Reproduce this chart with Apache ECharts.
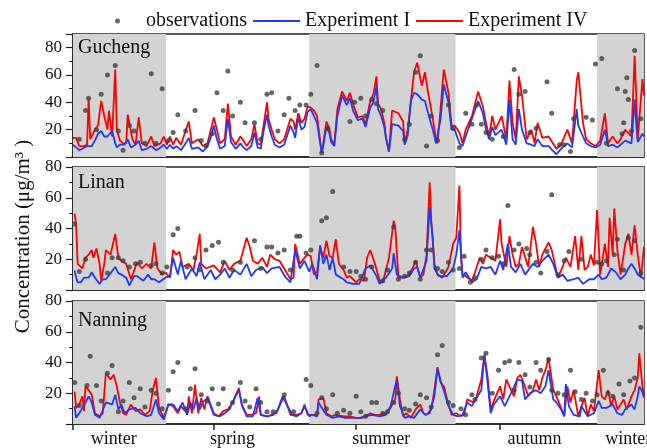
<!DOCTYPE html>
<html>
<head>
<meta charset="utf-8">
<script src="https://cdn.jsdelivr.net/npm/echarts@6/dist/echarts.min.js"></script>
<style>html,body{margin:0;padding:0;background:#fff}#c{width:647px;height:448px}</style>
</head>
<body>
<div id="c"></div>
<script>
// ---- data (day of year, concentration in µg/m3) ----
const siteNames = ['Gucheng', 'Linan', 'Nanning'];
const seasonNames = ['winter', 'spring', 'summer', 'autumn', 'winter'];
const seasonLabelDays = [26, 102, 197, 295, 355];
const seasonTickDays = [0, 90, 181, 273];
const shadeStart = [0, 151, 335];
const shadeEnd = [59.5, 244.5, 365];

const gucObs = [[4,13],[8,34],[10,43],[15,20],[18,46],[22,60],[27,67],[29,19],[32,5],[36,23],[39,19],[46,10],[50,61],[53,10],[57,50],[61,12],[64,18],[67,31],[72,19],[78,34],[82,12],[85,8],[89,17],[92,47],[96,34],[99,63],[102,30],[107,40],[110,25],[116,25],[120,13],[124,46],[127,47],[131,19],[135,31],[138,43],[142,34],[145,38],[149,38],[152,46],[156,67],[159,3],[163,21],[177,26],[180,40],[184,43],[187,30],[191,42],[194,39],[198,34],[212,13],[215,24],[219,62],[222,74],[226,8],[229,30],[233,12],[240,38],[243,21],[247,7],[251,32],[255,24],[258,38],[261,24],[264,18],[268,13],[275,15],[282,64],[285,46],[289,48],[292,18],[296,21],[303,55],[306,32],[311,9],[314,9],[318,4],[320,28],[328,29],[332,27],[334,68],[338,72],[341,10],[348,50],[351,17],[352,25],[353,48],[354,58],[355,42],[357,19],[359,78],[363,28]];
const gucExp1 = [[0,9],[2,7],[4,5],[6,6],[9,8],[12,8],[14,12],[16,17],[18,19],[20,15],[22,15],[25,19],[27,10],[28,7],[30,9],[33,9],[35,13],[37,7],[40,9],[42,12],[44,5],[47,6],[50,8],[53,5],[56,7],[58,9],[60,6],[62,9],[64,6],[66,8],[69,5],[72,10],[74,14],[76,6],[80,7],[83,4],[86,8],[88,14],[90,23],[92,13],[94,6],[97,8],[99,28],[101,11],[104,6],[107,10],[109,7],[111,5],[114,8],[116,18],[118,7],[120,6],[122,20],[124,31],[125,23],[127,15],[129,9],[132,7],[135,9],[139,23],[141,18],[142,14],[144,29],[146,20],[148,22],[150,33],[152,35],[154,30],[156,25],[158,10],[159,3],[160,8],[162,22],[164,17],[165,11],[167,8],[169,30],[172,45],[175,38],[177,43],[179,34],[182,27],[185,28],[187,22],[190,36],[192,40],[194,52],[195,35],[197,30],[199,22],[200,14],[202,4],[204,24],[208,23],[211,19],[212,9],[214,16],[216,41],[218,47],[220,46],[223,42],[225,41],[227,32],[230,20],[232,10],[233,9],[235,28],[237,53],[240,40],[242,20],[244,20],[247,10],[249,8],[251,15],[255,28],[259,41],[262,32],[264,20],[266,13],[268,22],[270,16],[274,20],[277,9],[279,42],[281,13],[283,9],[285,35],[287,20],[290,10],[293,9],[295,8],[297,13],[300,8],[304,8],[309,2],[312,6],[316,10],[319,7],[322,35],[323,23],[326,15],[328,10],[331,8],[334,7],[337,9],[340,20],[342,8],[345,9],[348,7],[350,9],[353,12],[357,10],[359,42],[360,25],[361,11],[364,17],[365,15]];
const gucExp4 = [[0,14],[2,14],[4,8],[7,8],[9,9],[10,43],[11,13],[14,20],[16,23],[18,41],[20,30],[22,20],[23,34],[25,15],[27,64],[28,20],[30,12],[32,10],[34,10],[35,31],[38,13],[40,9],[42,29],[44,10],[47,8],[50,15],[52,8],[56,10],[58,15],[60,9],[62,15],[64,9],[66,14],[69,9],[74,26],[76,10],[80,13],[83,8],[86,10],[90,29],[92,20],[94,10],[97,13],[99,39],[101,15],[104,9],[107,15],[109,12],[111,8],[114,13],[116,24],[118,10],[120,9],[124,40],[125,28],[127,20],[129,13],[132,10],[135,13],[139,28],[141,26],[142,20],[144,32],[146,25],[148,28],[150,37],[152,36],[154,34],[156,30],[158,12],[159,3],[160,10],[162,26],[164,20],[165,13],[167,9],[169,35],[172,48],[175,41],[177,47],[179,39],[182,29],[185,30],[187,24],[190,41],[192,46],[194,59],[195,39],[197,35],[199,25],[200,15],[202,4],[204,34],[208,32],[211,26],[212,10],[214,20],[216,41],[218,62],[220,69],[223,52],[225,62],[227,47],[230,28],[232,13],[233,10],[235,36],[237,64],[240,47],[242,23],[244,23],[247,18],[249,10],[251,20],[255,30],[259,48],[262,37],[264,25],[266,15],[268,30],[270,20],[274,30],[277,13],[279,56],[281,25],[283,13],[285,59],[287,45],[290,13],[293,20],[295,10],[297,25],[300,14],[304,15],[309,6],[312,9],[316,20],[319,10],[322,56],[323,62],[326,25],[328,13],[331,10],[334,8],[337,12],[340,32],[342,10],[345,15],[348,10],[350,13],[353,20],[357,15],[359,74],[360,45],[361,13],[364,57],[365,45]];

const linObs = [[1,43],[4,12],[8,20],[22,11],[25,21],[29,21],[32,19],[36,15],[40,17],[43,18],[50,16],[53,17],[57,11],[60,15],[64,36],[67,40],[73,15],[78,21],[81,13],[85,26],[89,29],[93,31],[96,18],[102,13],[107,18],[116,32],[120,14],[124,28],[127,28],[131,24],[135,26],[139,13],[143,35],[145,35],[149,24],[152,26],[159,45],[162,47],[166,64],[173,15],[177,12],[181,12],[184,9],[187,7],[191,15],[198,6],[201,13],[205,41],[208,7],[212,9],[215,11],[219,18],[222,7],[226,26],[229,26],[233,14],[236,12],[240,18],[243,13],[247,14],[250,22],[254,5],[257,8],[261,20],[264,26],[268,21],[272,22],[275,17],[278,55],[282,26],[285,30],[290,27],[292,23],[296,18],[299,11],[303,25],[306,62],[310,10],[314,19],[317,25],[325,20],[335,18],[338,17],[341,19],[346,23],[348,33],[352,13],[355,34],[359,32],[363,11]];
const linExp1 = [[1,12.6],[2,8],[3,5],[5,5],[7,8],[10,8],[12,11.5],[14,8],[17,4],[19,7],[21,7],[24,11],[27,15],[29,11],[31,10],[34,8],[36,3],[39,9],[41,9],[45,6],[48,10],[50,7],[52,7],[55,5],[59,8],[62,9],[64,21],[67,10],[69,19],[72,7],[76,14],[79,9],[81,18],[84,7],[88,13],[91,7],[94,10],[97,14],[100,8],[103,13],[107,10],[111,17],[114,9],[117,13],[121,15],[124,11],[127,14],[132,15],[136,8],[139,5],[142,26],[145,14],[148,19],[151,12],[153,17],[156,7],[158,29],[160,17],[162,23],[164,13],[166,21],[168,10],[173,7],[175,5],[179,4],[183,4],[187,14],[190,16],[194,9],[196,4],[200,8],[204,14],[205,24],[207,10],[211,8],[215,9],[218,14],[220,15],[222,8],[226,19],[228,54],[230,34],[231,14],[234,9],[239,9],[243,14],[245,23],[247,39],[248,23],[249,8],[251,11.5],[255,5],[258,7],[261,15],[264,14],[267,15],[270,10],[273,19],[275,13],[278,30],[280,15],[283,11.5],[286,17],[289,10],[294,17],[297,15],[300,19],[304,23],[307,17],[310,8],[313,10],[316,6],[320,7],[323,8],[326,4],[330,7],[333,7],[336,10],[338,7],[341,8],[344,14],[347,11.5],[350,7],[353,10],[355,14],[357,17],[359,14],[361,10],[364,8],[365,7]];
const linExp4 = [[1,49.6],[2,43],[3,17],[6,14],[8,21],[10,23],[12,26],[13,21],[15,27],[17,17],[18,6],[20,17],[21,26],[24,23],[27,36.5],[29,21],[31,19],[34,17],[37,7],[41,18],[44,14],[47,17],[50,14],[52,31],[54,14],[57,10],[59,11.5],[62,8],[64,26],[66,23],[68,25],[70,15],[74,17],[77,13],[79,23],[81,36.5],[82,17],[85,14],[90,16],[94,11.5],[97,19],[100,13],[103,17],[107,19],[111,34],[113,28],[115,19],[118,17],[121,21],[124,15],[126,23],[129,20],[132,19],[135,14],[139,7],[141,8],[142,30],[145,17],[148,21],[150,23],[152,22],[154,10],[156,12],[158,28],[160,21],[162,32],[164,22],[166,21],[168,33],[170,17],[173,13],[175,8],[177,9],[179,7],[181,5],[183,7],[186,6],[188,21],[190,26],[193,17],[196,6],[198,5],[200,13],[202,21],[205,45],[206,41],[208,8],[211,8],[214,9],[217,14],[219,19],[222,8],[224,10],[226,23],[228,70],[229,45],[231,17],[233,10],[236,8],[240,15],[243,30],[245,34],[247,68],[248,23],[249,10],[251,9],[255,6],[257,11.5],[260,21],[262,17],[264,23],[267,21],[270,19],[273,46],[274,30],[277,15],[279,35],[281,23],[283,15],[285,17],[287,28],[291,15],[294,41],[296,30],[298,15],[300,23],[304,31],[306,26],[308,17],[310,8],[313,15],[315,21],[318,15],[321,35],[323,13],[325,35],[327,13],[329,15],[331,23],[333,16],[335,52],[337,10],[340,30],[342,15],[343,47],[345,23],[346,53],[348,26],[350,10],[352,23],[353,30],[355,36.5],[357,23],[359,42],[361,23],[363,8],[365,28]];

const nanObs = [[1,27],[4,12],[9,25],[11,44],[15,25],[18,15],[22,33],[25,38],[29,8],[32,15],[36,27],[39,17],[43,23],[46,11],[50,22],[53,20],[57,10],[61,22],[64,34],[67,40],[72,10],[75,23],[78,36],[82,19],[86,15],[89,23],[93,13],[96,23],[102,14],[107,27],[110,15],[113,11],[117,23],[120,14],[124,8],[128,8],[135,19],[141,8],[149,29],[152,25],[156,7],[159,17],[162,10],[166,19],[169,7],[173,9],[177,7],[181,18],[184,8],[187,5],[191,14],[194,14],[198,7],[201,8],[205,14],[208,20],[212,10],[215,9],[219,13],[222,19],[226,17],[229,11],[233,45],[236,51],[240,14],[243,12],[248,10],[251,6],[255,19],[257,16],[261,43],[264,46],[268,20],[272,35],[276,40],[279,41],[282,22],[285,40],[289,32],[292,24],[296,40],[299,35],[304,42],[306,22],[310,20],[314,19],[318,35],[321,21],[325,16],[328,20],[332,15],[335,19],[339,35],[342,20],[345,18],[349,26],[352,19],[356,28],[359,30],[363,63]];
const nanExp1 = [[1,11.6],[2,4],[4,7],[8,14],[10,18],[12,14],[14,6],[17,4],[21,14],[25,12.7],[27,19],[29,9.5],[31,12.7],[33,7],[36,9.5],[40,10.5],[43,7],[47,5],[50,6],[53,16],[55,7],[58,3],[61,12.7],[64,12.7],[67,8.4],[70,14],[73,6],[75,14],[77,9.5],[79,17],[81,9.5],[83,14],[86,17],[90,6],[94,5],[97,7],[100,9.5],[103,16],[106,22],[108,12.7],[111,5],[115,5],[118,17],[120,6],[124,5],[128,6],[131,9.5],[134,18],[136,14],[140,6],[143,5],[146,7],[148,11.6],[151,5],[153,6],[156,5],[157,14],[160,9],[162,6],[166,4],[170,5],[174,4],[179,4],[183,4],[187,5],[191,6],[196,5],[200,6],[203,11.6],[207,29],[209,11.6],[212,4],[215,5],[218,4],[222,9.5],[225,6],[228,7],[231,18],[233,36],[235,28],[237,22],[240,11.6],[243,6],[246,5],[249,6],[252,14],[255,11.6],[258,17],[261,22],[263,45],[265,27],[267,7],[269,12.7],[273,18],[276,11.6],[279,18],[281,22],[284,29],[287,28],[289,16],[292,20],[296,22],[299,20],[302,24.5],[304,35],[307,16],[309,14],[312,9.5],[314,5],[315,26],[317,11.6],[320,6],[324,5],[325,11.6],[329,5],[333,7],[336,15],[338,10.5],[341,10.5],[345,12.7],[348,7],[351,6],[353,9.5],[357,12.7],[359,9.5],[361,18],[362,24.5],[364,21],[365,17]];
const nanExp4 = [[1,21],[2,10.5],[4,12.7],[6,18],[7,8.4],[8,24.5],[10,22],[12,19],[14,7],[17,5],[19,7],[21,33],[24,29],[26,32],[28,24.5],[30,14],[32,7],[34,6],[37,12.7],[40,8.4],[43,9.5],[46,6],[49,8.4],[51,22],[53,30],[55,10.5],[58,4],[60,9.5],[61,12.7],[64,11.6],[67,7],[69,11.6],[73,7],[74,18],[76,7],[78,25.6],[80,7],[82,17],[84,9.5],[86,18],[90,7],[93,5],[96,8.4],[99,9.5],[102,14],[106,23.4],[108,11.6],[111,6],[114,6],[117,7],[119,18],[120,6],[124,5],[127,6],[130,7],[133,14],[135,18],[139,6],[143,6],[146,7],[148,12.7],[150,6],[153,6],[156,6],[157,16],[160,17],[162,7],[165,5],[168,6],[173,5],[177,5],[181,4],[185,4],[190,7],[193,6],[197,6],[200,7],[203,10.5],[206,16],[207,31],[209,16],[211,5],[213,7],[216,4],[219,9.5],[222,12.7],[224,7],[226,6],[229,9.5],[231,22],[233,37],[235,27],[237,24.5],[240,12.7],[242,6],[245,7],[248,5],[250,6],[252,16],[256,14],[258,18],[261,29],[263,45],[265,31],[267,9.5],[269,15],[273,24.5],[275,16],[277,29],[280,22],[282,18],[284,30],[286,32],[288,27],[291,18],[294,22],[296,29],[298,22],[300,30],[302,35],[304,43],[307,22],[309,18],[312,10.5],[314,5],[316,24.5],[318,14],[320,22],[323,5],[325,11.6],[327,17],[329,5],[331,12.7],[333,8.4],[336,35],[338,18],[340,16],[342,22],[344,11.6],[346,18],[348,9.5],[350,12.7],[352,16],[354,9.5],[357,18],[359,22],[361,30],[362,46],[364,24.5],[365,18]];

const panels = [
  {name: siteNames[0], obs: gucObs, e1: gucExp1, e4: gucExp4, ymax: 90},
  {name: siteNames[1], obs: linObs, e1: linExp1, e4: linExp4, ymax: 80},
  {name: siteNames[2], obs: nanObs, e1: nanExp1, e4: nanExp4, ymax: 80}
];

// ---- layout / style ----
const FONT = 'Liberation Serif';
const gridTops = [34, 167, 301];
const titleTops = [38, 173, 311];
const GRID_LEFT = 73, GRID_W = 571, GRID_H = 123;
const BLUE = '#1f3cf2', RED = '#ff0000', DOT = '#404040', SHADE = '#d3d3d3', AXIS = '#222';

const chart = echarts.init(document.getElementById('c'), null, {renderer: 'canvas'});

const grids = [], xAxes = [], yAxes = [], series = [], titles = [];
const shadeData = shadeStart.map((s, i) => [{xAxis: s}, {xAxis: shadeEnd[i]}]);

panels.forEach((p, i) => {
  grids.push({left: GRID_LEFT, top: gridTops[i], width: GRID_W, height: GRID_H,
    outerBoundsMode: 'none', containLabel: false,
    show: true, backgroundColor: '#fff', borderColor: AXIS, borderWidth: 1.5, z: 0});
  const isLast = i === panels.length - 1;
  xAxes.push({
    type: 'value', gridIndex: i, min: 0, max: 365,
    splitLine: {show: false},
    axisLine: {show: true, lineStyle: {color: AXIS, width: 1.5}},
    axisTick: isLast ? {show: true, customValues: seasonTickDays, length: 6, lineStyle: {color: AXIS, width: 1.5}} : {show: false},
    axisLabel: isLast ? {
      show: true, customValues: seasonLabelDays, margin: 6,
      fontFamily: FONT, fontSize: 18, color: '#111',
      formatter: v => seasonNames[seasonLabelDays.indexOf(v)] || ''
    } : {show: false}
  });
  yAxes.push({
    type: 'value', gridIndex: i, min: 0, max: p.ymax, interval: 20,
    splitLine: {show: false},
    axisLine: {show: true, lineStyle: {color: AXIS, width: 1.5}},
    axisTick: {show: true, length: 7, lineStyle: {color: AXIS, width: 1.2}},
    minorTick: {show: true, splitNumber: 2, length: 4, lineStyle: {color: AXIS, width: 1}},
    axisLabel: {fontFamily: FONT, fontSize: 17, color: '#111', margin: 11,
      showMinLabel: false, showMaxLabel: p.ymax === 80},
    name: i === 1 ? 'Concentration (μg/m³ )' : '',
    nameLocation: 'middle', nameRotate: 90, nameGap: 37,
    nameTextStyle: {fontFamily: FONT, fontSize: 21, color: '#111', padding: [0, 16, 0, 0]}
  });
  titles.push({text: p.name, left: 78, top: titleTops[i], padding: 0,
    textStyle: {fontFamily: FONT, fontSize: 20, fontWeight: 'normal', color: '#111'}});
  series.push({
    type: 'line', xAxisIndex: i, yAxisIndex: i, data: [], silent: true, z: 1,
    markArea: {silent: true, itemStyle: {color: SHADE}, data: shadeData}
  });
  series.push({
    name: 'Experiment IV', type: 'line', xAxisIndex: i, yAxisIndex: i, data: p.e4,
    showSymbol: false, symbol: 'none', lineStyle: {color: RED, width: 1.8}, itemStyle: {color: RED}, z: 3
  });
  series.push({
    name: 'Experiment I', type: 'line', xAxisIndex: i, yAxisIndex: i, data: p.e1,
    showSymbol: false, symbol: 'none', lineStyle: {color: BLUE, width: 1.8}, itemStyle: {color: BLUE}, z: 4
  });
  series.push({
    name: 'observations', type: 'scatter', xAxisIndex: i, yAxisIndex: i, data: p.obs,
    symbolSize: 5, itemStyle: {color: DOT}, z: 5
  });
});

chart.setOption({
  animation: false,
  backgroundColor: '#fff',
  title: titles,
  legend: {
    data: [
      {name: 'observations', icon: 'circle'},
      {name: 'Experiment I', itemStyle: {opacity: 0}},
      {name: 'Experiment IV', itemStyle: {opacity: 0}}
    ],
    left: 110, top: 6, itemWidth: 47, itemHeight: 5, itemGap: 5,
    textStyle: {fontFamily: FONT, fontSize: 20, color: '#111'}
  },
  grid: grids, xAxis: xAxes, yAxis: yAxes, series: series
});
</script>
</body>
</html>
